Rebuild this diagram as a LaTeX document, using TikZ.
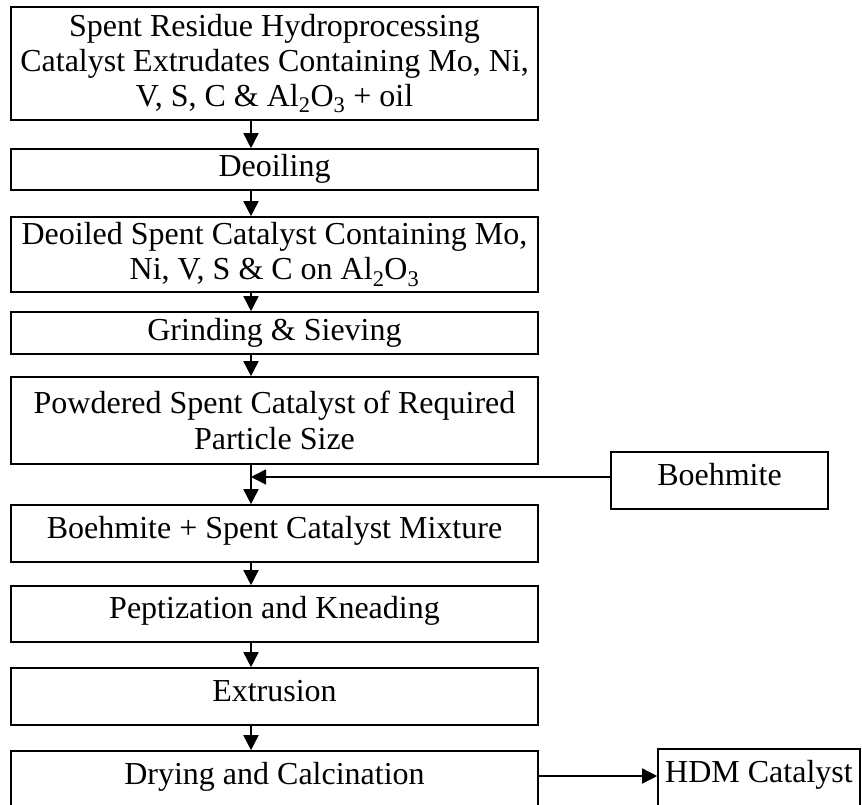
\documentclass[tikz,border=0pt]{standalone}
\usepackage{fontspec}
\setmainfont{Liberation Serif}
\usetikzlibrary{arrows.meta}
\begin{document}
\begin{tikzpicture}[x=1pt,y=-1pt,
  box/.style={draw, line width=1.6pt, align=center, inner sep=0pt,
    font=\fontsize{32}{35}\selectfont},
  oneline/.style={text height=21pt, text depth=7pt},
  tall/.style={text height=21pt, text depth=12pt},
  mainbox/.style={box, minimum width=527pt},
  arr/.style={line width=1.6pt, -{Triangle[length=15pt,width=15pt]}}]
\useasboundingbox (0,0) rectangle (862,805);
\clip (0,0) rectangle (862,805);
\coordinate (ax) at (251,0);
\coordinate (mid) at (251,477);
\node[mainbox, minimum height=113pt] (b1) at (274.5,63.5)
  {Spent Residue Hydroprocessing\\Catalyst Extrudates Containing Mo, Ni,\\V, S, C \& Al\textsubscript{2}O\textsubscript{3} + oil};
\node[mainbox, oneline, minimum height=41pt] (b2) at (274.5,169.5) {Deoiling};
\node[mainbox, minimum height=75pt] (b3) at (274.5,254.5)
  {Deoiled Spent Catalyst Containing Mo,\\Ni, V, S \& C on Al\textsubscript{2}O\textsubscript{3}};
\node[mainbox, oneline, minimum height=42pt] (b4) at (274.5,333) {Grinding \& Sieving};
\node[mainbox, minimum height=87pt, font=\fontsize{32}{36}\selectfont] (b5) at (274.5,420.5)
  {Powdered Spent Catalyst of Required\\Particle Size};
\node[mainbox, tall, minimum height=57pt] (b6) at (274.5,533.5) {Boehmite + Spent Catalyst Mixture};
\node[mainbox, tall, minimum height=56pt] (b7) at (274.5,614) {Peptization and Kneading};
\node[mainbox, tall, minimum height=57pt] (b8) at (274.5,696.5) {Extrusion};
\node[mainbox, tall, minimum height=57pt] (b9) at (274.5,779.5) {Drying and Calcination};
\node[box, tall, minimum width=217pt, minimum height=57pt] (boe) at (719.5,480.5) {Boehmite};
\node[box, tall, minimum width=202pt, minimum height=57pt] (hdm) at (759,777.5) {HDM Catalyst};
\draw[arr] (b1.south -| ax) -- (b2.north -| ax);
\draw[arr] (b2.south -| ax) -- (b3.north -| ax);
\draw[arr] (b3.south -| ax) -- (b4.north -| ax);
\draw[arr] (b4.south -| ax) -- (b5.north -| ax);
\draw[arr] (b5.south -| ax) -- (b6.north -| ax);
\draw[arr] (boe.west |- mid) -- (mid);
\draw[arr] (b6.south -| ax) -- (b7.north -| ax);
\draw[arr] (b7.south -| ax) -- (b8.north -| ax);
\draw[arr] (b8.south -| ax) -- (b9.north -| ax);
\draw[arr] (b9.east |- hdm.west) ++(0,-1.5) coordinate (hs) -- (hs -| hdm.west);
\end{tikzpicture}
\end{document}
